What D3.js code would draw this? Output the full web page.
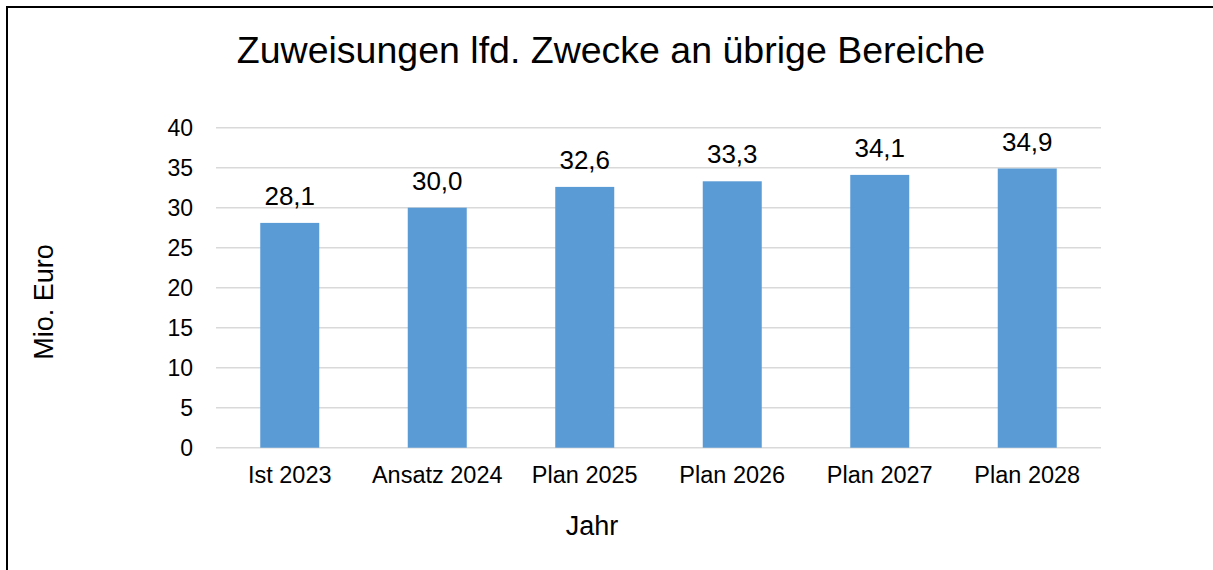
<!DOCTYPE html>
<html>
<head>
<meta charset="utf-8">
<script src="https://cdn.jsdelivr.net/npm/d3@7"></script>
<style>
  body { margin: 0; background: #fff; }
  text { font-family: "Liberation Sans", Arial, sans-serif; fill: #000; }
</style>
</head>
<body>
<div id="chart"></div>
<script>
// data
const categories = ['Ist 2023', 'Ansatz 2024', 'Plan 2025', 'Plan 2026', 'Plan 2027', 'Plan 2028'];
const values = [28.1, 30.0, 32.6, 33.3, 34.1, 34.9];
const yTicks = [0, 5, 10, 15, 20, 25, 30, 35, 40];
const chartTitle = 'Zuweisungen lfd. Zwecke an übrige Bereiche';
const yTitle = 'Mio. Euro';
const xTitle = 'Jahr';

const W = 1213, H = 570;
const margin = {top: 127.7, right: 112, bottom: 122.3, left: 216};
const width = W - margin.left - margin.right;
const height = H - margin.top - margin.bottom;

const svg = d3.select('#chart').append('svg')
  .attr('width', W).attr('height', H);

// outer frame (right and bottom edges fall outside the picture)
svg.append('rect')
  .attr('x', 7).attr('y', 7)
  .attr('width', W + 20).attr('height', H + 20)
  .attr('fill', 'none').attr('stroke', '#000').attr('stroke-width', 2);

svg.append('text')
  .attr('x', 611).attr('y', 63)
  .attr('text-anchor', 'middle')
  .style('font-size', '37.5px')
  .text(chartTitle);

const g = svg.append('g')
  .attr('transform', 'translate(' + margin.left + ',' + margin.top + ')');

const x = d3.scaleBand().domain(categories).range([0, width]).paddingInner(0.6).paddingOuter(0.3);
const y = d3.scaleLinear().domain([0, 40]).range([height, 0]);

// gridlines
g.append('g')
  .selectAll('line')
  .data(yTicks)
  .join('line')
  .attr('x1', 0).attr('x2', width)
  .attr('y1', d => y(d)).attr('y2', d => y(d))
  .attr('stroke', '#d9d9d9').attr('stroke-width', 1.5);

// y axis
const yAxis = g.append('g')
  .call(d3.axisLeft(y).tickValues(yTicks).tickSize(0).tickPadding(23));
yAxis.select('.domain').remove();
yAxis.selectAll('text')
  .style('font-size', '23px')
  .attr('dy', '0.36em');

// bars
g.selectAll('.bar')
  .data(values)
  .join('rect')
  .attr('class', 'bar')
  .attr('x', (d, i) => x(categories[i]))
  .attr('y', d => y(d))
  .attr('width', x.bandwidth())
  .attr('height', d => height - y(d))
  .attr('fill', '#5b9bd5');

// value labels
g.selectAll('.lbl')
  .data(values)
  .join('text')
  .attr('class', 'lbl')
  .attr('x', (d, i) => x(categories[i]) + x.bandwidth() / 2)
  .attr('y', d => y(d) - 18)
  .attr('text-anchor', 'middle')
  .style('font-size', '26px')
  .text(d => d.toFixed(1).replace('.', ','));

// x axis
const xAxis = g.append('g')
  .attr('transform', 'translate(0,' + height + ')')
  .call(d3.axisBottom(x).tickSize(0).tickPadding(19));
xAxis.select('.domain').remove();
xAxis.selectAll('text')
  .style('font-size', '23.5px')
  .attr('dy', '0.71em');

// axis titles
svg.append('text')
  .attr('transform', 'translate(53,302) rotate(-90)')
  .attr('text-anchor', 'middle')
  .style('font-size', '27px')
  .text(yTitle);

svg.append('text')
  .attr('x', 592).attr('y', 535)
  .attr('text-anchor', 'middle')
  .style('font-size', '27px')
  .text(xTitle);
</script>
</body>
</html>
